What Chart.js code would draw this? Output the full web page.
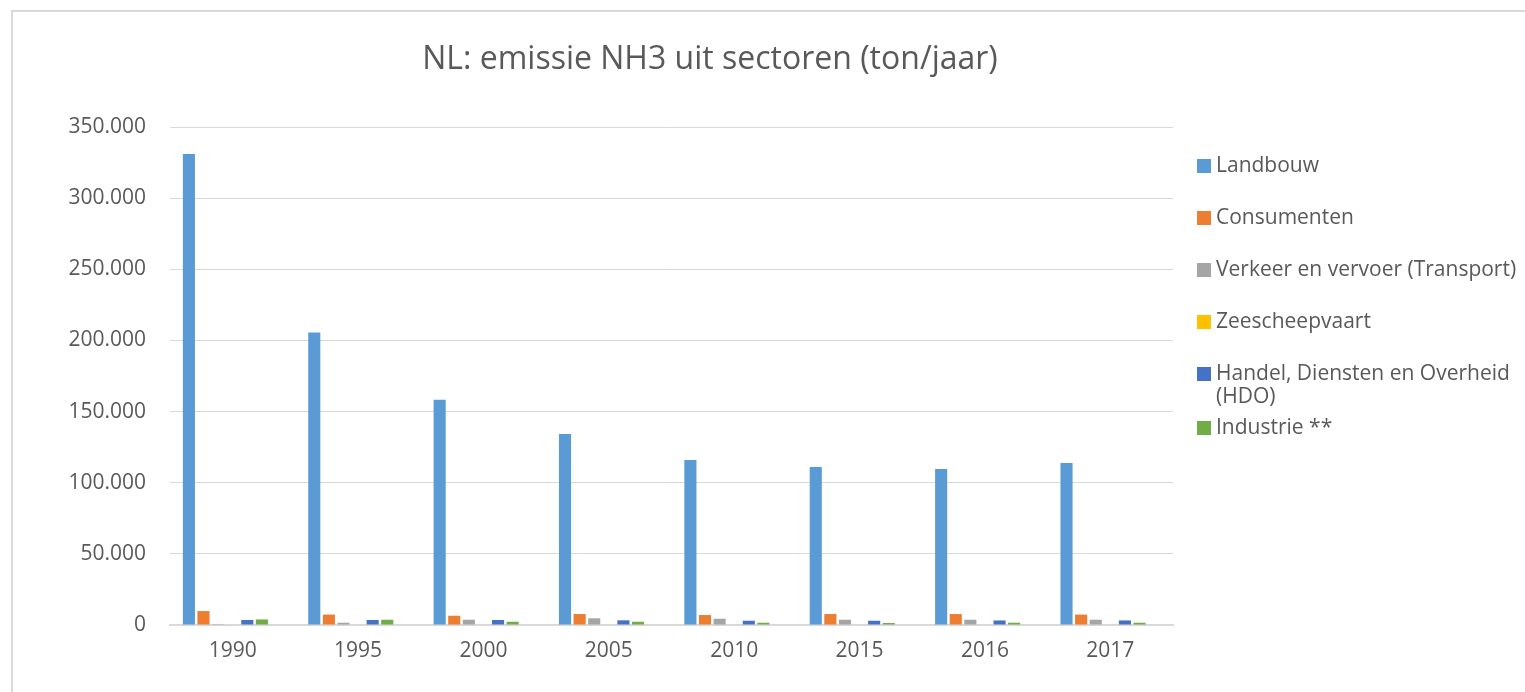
<!DOCTYPE html>
<html>
<head>
<meta charset="utf-8">
<script src="https://cdn.jsdelivr.net/npm/chart.js@4"></script>
<style>
  html, body { margin: 0; padding: 0; background: #fff; }
  #frame { position: absolute; left: 11px; top: 10px; width: 1600px; height: 800px; border: 2px solid #d9d9d9; box-sizing: border-box; }
  #wrap { position: absolute; left: 0; top: 0; width: 1525px; height: 692px; }
</style>
</head>
<body>
<div id="frame"></div>
<div id="wrap"><canvas id="c" width="1525" height="692"></canvas></div>
<script>
const categories = ['1990', '1995', '2000', '2005', '2010', '2015', '2016', '2017'];
const landbouw = [331000, 205500, 158300, 134200, 116000, 111000, 109600, 113900];
const consumenten = [9800, 7300, 6500, 7700, 7000, 7700, 7700, 7300];
const verkeer = [600, 1600, 3700, 4700, 4400, 3700, 3700, 3700];
const zeescheepvaart = [0, 0, 0, 0, 0, 0, 0, 0];
const hdo = [3500, 3500, 3500, 3300, 3000, 3000, 3200, 3200];
const industrie = [3900, 3700, 2300, 2300, 1600, 1400, 1600, 1600];
const leeg = [null, null, null, null, null, null, null, null];
const yTicks = [0, 50000, 100000, 150000, 200000, 250000, 300000, 350000];
const titleText = 'NL: emissie NH3 uit sectoren (ton/jaar)';

const FONT = '"Open Sans", sans-serif';
const TXT = '#595959';

function fmt(v) {
  return String(Math.round(v)).replace(/\B(?=(\d{3})+(?!\d))/g, '.');
}

const legendPlugin = {
  id: 'rightLegend',
  afterDraw(chart) {
    const ctx = chart.ctx;
    const x0 = 1197, box = 14;
    const ys = [166, 218, 270, 322, 374, 428];
    ctx.save();
    ctx.font = '21px ' + FONT;
    ctx.textBaseline = 'middle';
    ctx.textAlign = 'left';
    chart.data.datasets.forEach((ds, i) => {
      if (!ds.label) return;
      const y = ys[i];
      ctx.fillStyle = ds.backgroundColor;
      ctx.fillRect(x0, y - box / 2, box, box);
      ctx.fillStyle = TXT;
      const lines = ds.legendLines || [ds.label];
      lines.forEach((t, k) => ctx.fillText(t, x0 + 19, y + k * 23));
    });
    // title
    ctx.font = '32px ' + FONT;
    ctx.textAlign = 'center';
    ctx.fillStyle = TXT;
    ctx.fillText(titleText, 710, 60);
    ctx.restore();
  }
};

new Chart(document.getElementById('c'), {
  type: 'bar',
  data: {
    labels: categories,
    datasets: [
      { label: 'Landbouw', data: landbouw, backgroundColor: '#5B9BD5' },
      { label: 'Consumenten', data: consumenten, backgroundColor: '#ED7D31' },
      { label: 'Verkeer en vervoer (Transport)', data: verkeer, backgroundColor: '#A5A5A5' },
      { label: 'Zeescheepvaart', data: zeescheepvaart, backgroundColor: '#FFC000' },
      { label: 'Handel, Diensten en Overheid (HDO)', legendLines: ['Handel, Diensten en Overheid', '(HDO)'], data: hdo, backgroundColor: '#4472C4' },
      { label: 'Industrie **', data: industrie, backgroundColor: '#70AD47' },
      { label: '', data: leeg, backgroundColor: '#264478' }
    ]
  },
  options: {
    responsive: false,
    animation: false,
    datasets: { bar: { categoryPercentage: 0.815, barPercentage: 0.83 } },
    layout: { padding: { left: 0, right: 352, top: 127, bottom: 0 } },
    plugins: {
      legend: { display: false },
      tooltip: { enabled: false },
      title: { display: false }
    },
    scales: {
      x: {
        grid: { display: false, drawTicks: false },
        border: { display: true, color: '#d9d9d9', width: 2 },
        ticks: { color: TXT, font: { family: FONT, size: 21 }, padding: 13 },
        afterFit(s) { s.height = 67; }
      },
      y: {
        min: 0, max: 350000,
        afterBuildTicks(s) { s.ticks = yTicks.map(v => ({ value: v })); },
        grid: { color: '#d9d9d9', lineWidth: 1, drawTicks: false },
        border: { display: false },
        ticks: { color: TXT, font: { family: FONT, size: 21 }, padding: 24, callback: v => fmt(v) },
        afterFit(s) { s.width = 170; }
      }
    }
  },
  plugins: [legendPlugin]
});
</script>
</body>
</html>
